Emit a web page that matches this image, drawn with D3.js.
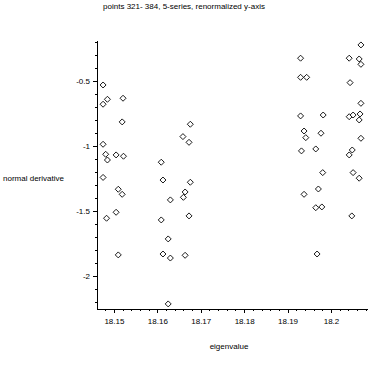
<!DOCTYPE html>
<html>
<head>
<meta charset="utf-8">
<script src="https://cdn.jsdelivr.net/npm/d3@7"></script>
<style>
  body { margin: 0; background: #fff; }
  text { font-family: "Liberation Sans", Arial, sans-serif; font-size: 8px; fill: #000; }
  .axis path, .axis line { stroke: #000; shape-rendering: crispEdges; }
</style>
</head>
<body>
<svg id="chart" width="370" height="370"></svg>
<script>
// four clusters of eigenvalues (x) and normal derivatives (y)
var groupAx = [18.1475, 18.1485, 18.1475, 18.1521, 18.1519, 18.1475, 18.1481, 18.1485,
               18.1505, 18.1522, 18.1475, 18.1510, 18.1519, 18.1483, 18.1505, 18.1510];
var groupAy = [-0.531, -0.641, -0.679, -0.633, -0.815, -0.987, -1.064, -1.108,
               -1.069, -1.079, -1.242, -1.333, -1.372, -1.556, -1.510, -1.838];

var groupBx = [18.1676, 18.1659, 18.1673, 18.1609, 18.1613, 18.1676, 18.1664, 18.1660,
               18.1630, 18.1609, 18.1673, 18.1625, 18.1613, 18.1630, 18.1664, 18.1625];
var groupBy = [-0.833, -0.928, -0.972, -1.125, -1.262, -1.279, -1.354, -1.395,
               -1.415, -1.569, -1.538, -1.715, -1.831, -1.862, -1.841, -2.215];

var groupCx = [18.1930, 18.1930, 18.1944, 18.1930, 18.1982, 18.1938, 18.1942, 18.1977,
               18.1932, 18.1965, 18.1981, 18.1971, 18.1938, 18.1965, 18.1979, 18.1968];
var groupCy = [-0.325, -0.472, -0.472, -0.769, -0.762, -0.885, -0.936, -0.902,
               -1.038, -1.023, -1.205, -1.331, -1.372, -1.475, -1.469, -1.831];

var groupDx = [18.2069, 18.2042, 18.2065, 18.2069, 18.2044, 18.2069, 18.2042, 18.2051,
               18.2067, 18.2065, 18.2069, 18.2049, 18.2042, 18.2051, 18.2065, 18.2048];
var groupDy = [-0.223, -0.325, -0.331, -0.372, -0.513, -0.672, -0.775, -0.762,
               -0.754, -0.800, -0.941, -1.031, -1.069, -1.205, -1.248, -1.538];

var xTicks = [18.15, 18.16, 18.17, 18.18, 18.19, 18.2];
var yTicks = [-2, -1.5, -1, -0.5];

var titleText = "points 321- 384, 5-series, renormalized y-axis";
var xLabel = "eigenvalue";
var yLabel = "normal derivative";

var svg = d3.select("#chart");

// plot box (note: "top" is reserved on window, so use plotTop)
var plotLeft = 97, plotRight = 367, plotTop = 40, plotBottom = 309;

var x = d3.scaleLinear().domain([18.1461, 18.2083]).range([plotLeft, plotRight]);
var y = d3.scaleLinear().domain([-2.254, -0.185]).range([plotBottom, plotTop]);

// minor ticks
svg.append("g")
    .attr("class", "axis")
    .attr("transform", "translate(0," + plotBottom + ")")
    .call(d3.axisBottom(x).tickValues(d3.range(18.148, 18.2081, 0.002)).tickSize(2).tickFormat(""))
    .select(".domain").remove();

svg.append("g")
    .attr("class", "axis")
    .attr("transform", "translate(" + plotLeft + ",0)")
    .call(d3.axisLeft(y).tickValues(d3.range(-2.2, -0.19, 0.1)).tickSize(2).tickFormat(""))
    .select(".domain").remove();

// major axes
svg.append("g")
    .attr("class", "axis")
    .attr("transform", "translate(0," + plotBottom + ")")
    .call(d3.axisBottom(x).tickValues(xTicks).tickSize(4).tickSizeOuter(0).tickPadding(5)
      .tickFormat(function(d) { return String(+d.toFixed(2)); }));

svg.append("g")
    .attr("class", "axis")
    .attr("transform", "translate(" + plotLeft + ",0)")
    .call(d3.axisLeft(y).tickValues(yTicks).tickSize(4).tickSizeOuter(0).tickPadding(3)
      .tickFormat(function(d) { return "-" + String(-d); }));

svg.selectAll(".axis text").style("font-size", "8px").style("font-family", "Liberation Sans, Arial, sans-serif");

// points
var groups = [[groupAx, groupAy], [groupBx, groupBy], [groupCx, groupCy], [groupDx, groupDy]];
var points = [];
groups.forEach(function(g) {
  g[0].forEach(function(v, i) { points.push({ ev: v, nd: g[1][i] }); });
});

svg.append("g")
  .selectAll("path")
  .data(points)
  .enter()
  .append("path")
    .attr("transform", function(d) { return "translate(" + x(d.ev) + "," + y(d.nd) + ")"; })
    .attr("d", "M0,-3L3,0L0,3L-3,0Z")
    .attr("fill", "#fff")
    .attr("stroke", "#000")
    .attr("stroke-width", 0.9);

// labels
svg.append("text")
    .attr("x", 184)
    .attr("y", 9)
    .attr("text-anchor", "middle")
    .text(titleText);

svg.append("text")
    .attr("x", 3)
    .attr("y", 181)
    .text(yLabel);

svg.append("text")
    .attr("x", 229)
    .attr("y", 349)
    .attr("text-anchor", "middle")
    .text(xLabel);
</script>
</body>
</html>
